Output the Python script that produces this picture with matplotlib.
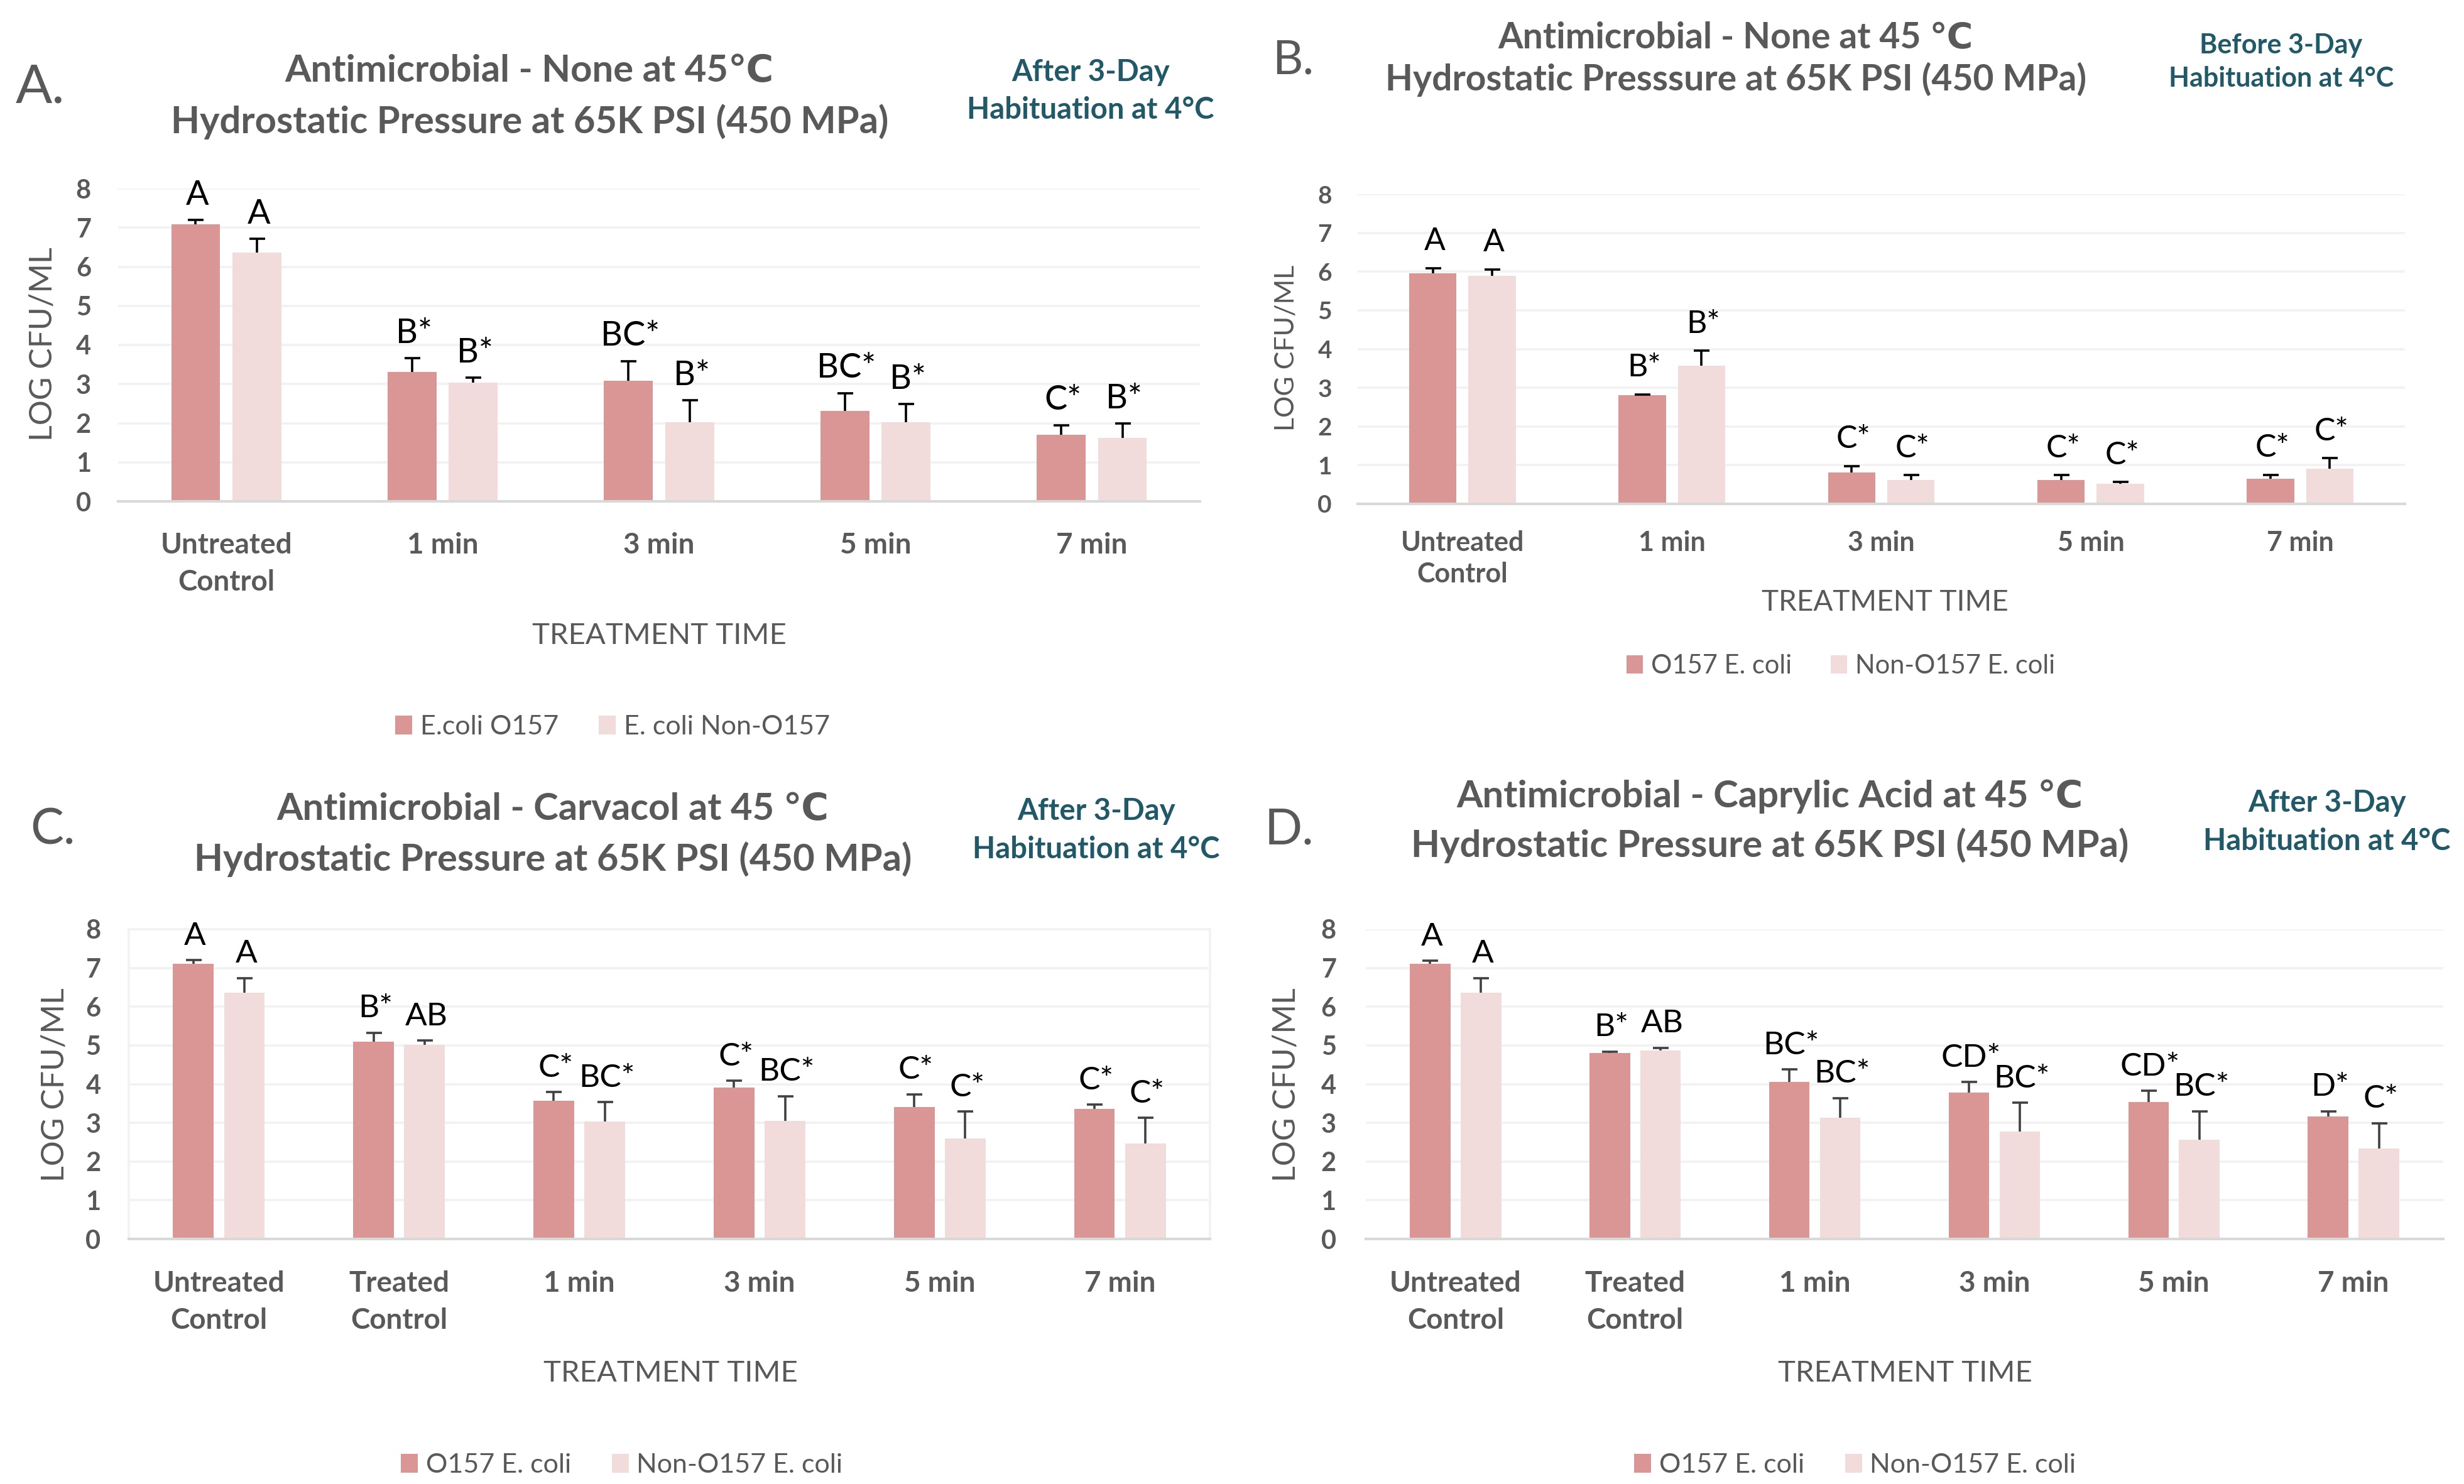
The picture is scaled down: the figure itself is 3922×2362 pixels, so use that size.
import matplotlib
matplotlib.use("Agg")
import matplotlib.pyplot as plt
from matplotlib.patches import Patch
import numpy as np

plt.rcParams["font.family"] = ["Lato", "DejaVu Sans"]

# ── data ─────────────────────────────────────────────────────────────────────
CATS_5 = ["Untreated\nControl", "1 min", "3 min", "5 min", "7 min"]
CATS_6 = ["Untreated\nControl", "Treated\nControl", "1 min", "3 min", "5 min", "7 min"]

# A. none, after habituation
A_O157 = [7.09, 3.31, 3.09, 2.32, 1.71]
A_O157_ERR = [0.11, 0.35, 0.50, 0.45, 0.24]
A_O157_LBL = ["A", "B*", "BC*", "BC*", "C*"]
A_NON = [6.36, 3.04, 2.02, 2.02, 1.62]
A_NON_ERR = [0.35, 0.12, 0.56, 0.47, 0.37]
A_NON_LBL = ["A", "B*", "B*", "B*", "B*"]

# B. none, before habituation
B_O157 = [5.96, 2.80, 0.81, 0.61, 0.65]
B_O157_ERR = [0.13, 0.03, 0.17, 0.13, 0.10]
B_O157_LBL = ["A", "B*", "C*", "C*", "C*"]
B_NON = [5.89, 3.57, 0.61, 0.52, 0.91]
B_NON_ERR = [0.17, 0.39, 0.13, 0.04, 0.27]
B_NON_LBL = ["A", "B*", "C*", "C*", "C*"]

# C. carvacol
C_O157 = [7.10, 5.10, 3.57, 3.91, 3.40, 3.36]
C_O157_ERR = [0.10, 0.23, 0.22, 0.18, 0.34, 0.11]
C_O157_LBL = ["A", "B*", "C*", "C*", "C*", "C*"]
C_NON = [6.36, 5.01, 3.03, 3.05, 2.60, 2.46]
C_NON_ERR = [0.38, 0.11, 0.50, 0.64, 0.69, 0.67]
C_NON_LBL = ["A", "AB", "BC*", "BC*", "C*", "C*"]

# D. caprylic acid
D_O157 = [7.10, 4.80, 4.05, 3.78, 3.54, 3.16]
D_O157_ERR = [0.09, 0.04, 0.33, 0.27, 0.29, 0.14]
D_O157_LBL = ["A", "B*", "BC*", "CD*", "CD*", "D*"]
D_NON = [6.36, 4.87, 3.13, 2.77, 2.57, 2.33]
D_NON_ERR = [0.38, 0.07, 0.51, 0.75, 0.73, 0.66]
D_NON_LBL = ["A", "AB", "BC*", "BC*", "BC*", "C*"]

LEGEND_A = ["E.coli O157", "E. coli Non-O157"]
LEGEND_BCD = ["O157 E. coli", "Non-O157 E. coli"]

# ── style ────────────────────────────────────────────────────────────────────
COL_O157 = "#D99694"
COL_NON = "#F2DCDB"
GRAY_TXT = "#595959"
TEAL = "#215968"
GRID = "#F2F2F2"
AXIS = "#D9D9D9"

W, H = 3923, 2362


def fx(x):
    return x / W


def fy(y):
    return 1 - y / H


def draw_panel(fig, lay, cats, o157, o157_err, o157_lbl, non, non_err, non_lbl, leg_names):
    l, t, r, b = lay["rect"]
    ax = fig.add_axes([fx(l), fy(b), (r - l) / W, (b - t) / H])
    n = len(cats)
    x = np.arange(n)
    bw, off = 0.226, 0.1415

    ax.bar(x - off, o157, width=bw, color=COL_O157, zorder=2)
    ax.bar(x + off, non, width=bw, color=COL_NON, zorder=2)
    # one-sided (upper) error bars: stem from bar top, cap only at the top
    for xs, vals, errs in ((x - off, o157, o157_err), (x + off, non, non_err)):
        tops = np.asarray(vals) + np.asarray(errs)
        ax.errorbar(xs, vals, yerr=[np.zeros(n), errs], fmt="none", ecolor=lay["ecolor"],
                    elinewidth=2.6, capsize=0, zorder=3)
        ax.plot(xs, tops, ls="none", marker="_", markersize=18, markeredgewidth=2.6,
                color=lay["ecolor"], zorder=3)
    for xs, vals, errs, lbls in ((x - off, o157, o157_err, o157_lbl),
                                 (x + off, non, non_err, non_lbl)):
        for xi, v, e, s in zip(xs, vals, errs, lbls):
            ax.annotate(s, (xi, v + e), xytext=(2, lay["lbl_off"]), textcoords="offset points",
                        ha="center", va="bottom", fontsize=lay["lbl_fs"], color="black")

    ax.set_xlim(-0.5, n - 0.5)
    ax.set_ylim(0, 8)
    ax.set_yticks(range(0, 9))
    ax.set_xticks(x)
    ax.set_xticklabels(cats, linespacing=lay["xls"])
    ax.tick_params(axis="y", length=0, pad=lay["ypad"], labelsize=lay["ytick_fs"],
                   labelcolor=GRAY_TXT)
    ax.tick_params(axis="x", length=0, pad=lay["xpad"], labelsize=lay["xtick_fs"],
                   labelcolor=GRAY_TXT)
    for lab in ax.get_xticklabels() + ax.get_yticklabels():
        lab.set_fontweight("bold")
    ax.set_axisbelow(True)
    ax.yaxis.grid(True, color=GRID, linewidth=2.6)
    for side in ("top", "right", "left"):
        ax.spines[side].set_visible(lay["frame"])
        ax.spines[side].set_color(GRID)
        ax.spines[side].set_linewidth(2.6)
    ax.spines["bottom"].set_color(AXIS)
    ax.spines["bottom"].set_linewidth(3.0)

    # panel letter, title, habituation note
    lx, ly, lfs = lay["letter"]
    fig.text(fx(lx), fy(ly), lay["letter_txt"], fontsize=lfs, color=GRAY_TXT,
             ha="left", va="baseline")
    tx, ty1, ty2, tfs = lay["title"]
    for txt, ty in zip(lay["title_txt"], (ty1, ty2)):
        fig.text(fx(tx), fy(ty), txt, fontsize=tfs, fontweight="bold", color=GRAY_TXT,
                 ha="center", va="baseline")
    nx, ny1, ny2, nfs = lay["note"]
    for txt, ny in zip(lay["note_txt"], (ny1, ny2)):
        fig.text(fx(nx), fy(ny), txt, fontsize=nfs, fontweight="bold", color=TEAL,
                 ha="center", va="baseline")

    # axis titles
    yx, yy, yfs = lay["ylab"]
    fig.text(fx(yx), fy(yy), "LOG CFU/ML", rotation=90, fontsize=yfs, color=GRAY_TXT,
             ha="center", va="center")
    xx, xy, xfs = lay["xlab"]
    fig.text(fx(xx), fy(xy), "TREATMENT TIME", fontsize=xfs, color=GRAY_TXT,
             ha="center", va="baseline")

    # legend
    gx, gy, gfs = lay["legend"]
    handles = [Patch(facecolor=COL_O157, edgecolor="none"),
               Patch(facecolor=COL_NON, edgecolor="none")]
    leg = ax.legend(handles, leg_names, loc="center", bbox_to_anchor=(fx(gx), fy(gy)),
                    bbox_transform=fig.transFigure, ncol=2, frameon=False, fontsize=gfs,
                    handlelength=0.62, handleheight=0.7, handletextpad=0.3,
                    columnspacing=1.5, borderaxespad=0)
    for txt in leg.get_texts():
        txt.set_color(GRAY_TXT)
    return ax


LAYOUT_A = dict(
    rect=(188, 300, 1910, 798), frame=False, ecolor="black", lbl_off=11, lbl_fs=39,
    ypad=31, xpad=35, ytick_fs=30, xtick_fs=33, xls=1.5,
    letter=(25, 163, 62), letter_txt="A.",
    title=(843, 130, 212, 43),
    title_txt=["Antimicrobial - None at 45℃", "Hydrostatic Pressure at 65K PSI (450 MPa)"],
    note=(1736, 129, 189, 34), note_txt=["After 3-Day", "Habituation at 4°C"],
    ylab=(69, 548, 36), xlab=(1049, 1025, 34), legend=(975, 1157, 31),
)
LAYOUT_B = dict(
    rect=(2161, 309, 3828, 802), frame=False, ecolor="black", lbl_off=14, lbl_fs=36,
    ypad=29.5, xpad=30, ytick_fs=28, xtick_fs=31, xls=1.3,
    letter=(2025, 117, 54), letter_txt="B.",
    title=(2763, 76, 144, 41),
    title_txt=["Antimicrobial - None at 45 ℃", "Hydrostatic Presssure at 65K PSI (450 MPa)"],
    note=(3631, 85, 138, 31), note_txt=["Before 3-Day", "Habituation at 4°C"],
    ylab=(2048, 554, 31), xlab=(3000, 972, 33), legend=(2930, 1060, 30),
)
LAYOUT_C = dict(
    rect=(205, 1479, 1926, 1972), frame=True, ecolor="#404040", lbl_off=11, lbl_fs=37,
    ypad=32, xpad=36, ytick_fs=30, xtick_fs=33, xls=1.5,
    letter=(48, 1343, 57), letter_txt="C.",
    title=(880, 1305, 1386, 43),
    title_txt=["Antimicrobial - Carvacol at 45 ℃", "Hydrostatic Pressure at 65K PSI (450 MPa)"],
    note=(1745, 1305, 1366, 34), note_txt=["After 3-Day", "Habituation at 4°C"],
    ylab=(88, 1727, 36), xlab=(1067, 2199, 34), legend=(990, 2332, 31),
)
LAYOUT_D = dict(
    rect=(2174, 1479, 3889, 1972), frame=False, ecolor="#404040", lbl_off=11, lbl_fs=37,
    ypad=34, xpad=36, ytick_fs=30, xtick_fs=33, xls=1.5,
    letter=(2013, 1343, 57), letter_txt="D.",
    title=(2817, 1285, 1364, 43),
    title_txt=["Antimicrobial - Caprylic Acid at 45 ℃", "Hydrostatic Pressure at 65K PSI (450 MPa)"],
    note=(3704, 1292, 1353, 34), note_txt=["After 3-Day", "Habituation at 4°C"],
    ylab=(2048, 1727, 36), xlab=(3032, 2199, 34), legend=(2953, 2332, 31),
)


def main():
    fig = plt.figure(figsize=(W / 100, H / 100), dpi=100)
    fig.patch.set_facecolor("white")
    draw_panel(fig, LAYOUT_A, CATS_5, A_O157, A_O157_ERR, A_O157_LBL,
               A_NON, A_NON_ERR, A_NON_LBL, LEGEND_A)
    draw_panel(fig, LAYOUT_B, CATS_5, B_O157, B_O157_ERR, B_O157_LBL,
               B_NON, B_NON_ERR, B_NON_LBL, LEGEND_BCD)
    draw_panel(fig, LAYOUT_C, CATS_6, C_O157, C_O157_ERR, C_O157_LBL,
               C_NON, C_NON_ERR, C_NON_LBL, LEGEND_BCD)
    draw_panel(fig, LAYOUT_D, CATS_6, D_O157, D_O157_ERR, D_O157_LBL,
               D_NON, D_NON_ERR, D_NON_LBL, LEGEND_BCD)
    fig.savefig("out.png", dpi=100, facecolor="white")
    plt.close(fig)


if __name__ == "__main__":
    main()
